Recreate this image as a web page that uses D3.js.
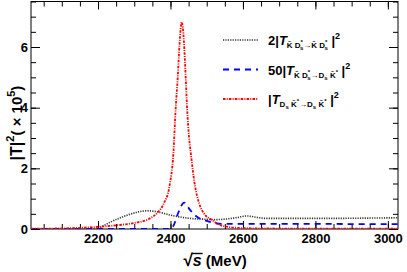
<!DOCTYPE html>
<html>
<head>
    <style>
        body, html { margin: 0; padding: 0; background: #fff; overflow: hidden; }
        svg text { font-family: "Liberation Sans", Arial, sans-serif; font-weight: bold; }
    </style>
    <script src="https://d3js.org/d3.v7.min.js"></script>
</head>
<body>
<svg id="chart" width="407" height="272"></svg>
<script>
// values (sqrt(s) in MeV, |T|^2 in units of 1e5)
const blackX = [2015, 2195, 2200, 2233, 2270, 2307, 2334, 2362, 2399, 2454, 2500, 2525, 2555, 2585, 2610, 2640, 2665, 2750, 2850, 2950, 3028];
const blackY = [0, 0, 0.02, 0.22, 0.41, 0.55, 0.6, 0.57, 0.46, 0.35, 0.32, 0.31, 0.33, 0.38, 0.43, 0.38, 0.35, 0.35, 0.35, 0.36, 0.37];

const blueX = [2015, 2200, 2400, 2410, 2421, 2438, 2454, 2472, 2500, 2520, 2545, 2650, 2800, 2950, 3028];
const blueY = [0, 0, 0, 0.15, 0.52, 0.87, 0.63, 0.41, 0.27, 0.2, 0.17, 0.17, 0.17, 0.16, 0.16];

const redX = [2015, 2100, 2150, 2200, 2250, 2300, 2340, 2365, 2382, 2397, 2408, 2414, 2420, 2425, 2431, 2437, 2442, 2446, 2451, 2456, 2468, 2479, 2492, 2514, 2545, 2600, 2700, 3028];
const redY = [0.01, 0.02, 0.04, 0.07, 0.12, 0.2, 0.33, 0.55, 0.85, 1.4, 2.5, 3.9, 5.0, 6.1, 6.82, 6.2, 5.0, 3.95, 3.05, 2.5, 1.4, 0.85, 0.52, 0.3, 0.1, 0.03, 0.015, 0.01];

const xTicks = [2200, 2400, 2600, 2800, 3000];
const yTicks = [0, 2, 4, 6];

const svg = d3.select('#chart');
const pLeft = 31, pRight = 398, pTop = 1.5, pBottom = 229;

const x = d3.scaleLinear().domain([2015, 3028]).range([pLeft, pRight]);
const y = d3.scaleLinear().domain([0, 7.5]).range([pBottom, pTop]);

const xMinor = d3.range(2050, 3028, 50);
const yMinor = d3.range(0, 7.51, 0.5);

// axes: ticks point inward, mirrored on top and right
function styleAxis(g) {
    g.select('.domain').remove();
    g.selectAll('line').attr('stroke', '#000');
}
svg.append('g').attr('transform', `translate(0,${pBottom})`)
    .call(d3.axisBottom(x).tickValues(xMinor).tickSize(-5).tickFormat(''))
    .call(styleAxis);
svg.append('g').attr('transform', `translate(0,${pBottom})`)
    .call(d3.axisBottom(x).tickValues(xTicks).tickSize(-8).tickPadding(5).tickFormat(d3.format('d')))
    .call(styleAxis)
    .selectAll('text').attr('font-size', 13).attr('fill', '#000');
svg.append('g').attr('transform', `translate(0,${pTop})`)
    .call(d3.axisTop(x).tickValues(xMinor).tickSize(-5).tickFormat(''))
    .call(styleAxis);
svg.append('g').attr('transform', `translate(0,${pTop})`)
    .call(d3.axisTop(x).tickValues(xTicks).tickSize(-8).tickFormat(''))
    .call(styleAxis);

svg.append('g').attr('transform', `translate(${pLeft},0)`)
    .call(d3.axisLeft(y).tickValues(yMinor).tickSize(-5).tickFormat(''))
    .call(styleAxis);
svg.append('g').attr('transform', `translate(${pLeft},0)`)
    .call(d3.axisLeft(y).tickValues(yTicks).tickSize(-9).tickPadding(3).tickFormat(d3.format('d')))
    .call(styleAxis)
    .selectAll('text').attr('font-size', 13).attr('fill', '#000');
svg.append('g').attr('transform', `translate(${pRight},0)`)
    .call(d3.axisRight(y).tickValues(yMinor).tickSize(-5).tickFormat(''))
    .call(styleAxis);
svg.append('g').attr('transform', `translate(${pRight},0)`)
    .call(d3.axisRight(y).tickValues(yTicks).tickSize(-9).tickFormat(''))
    .call(styleAxis);

svg.append('rect')
    .attr('x', pLeft).attr('y', pTop)
    .attr('width', pRight - pLeft).attr('height', pBottom - pTop)
    .attr('fill', 'none').attr('stroke', '#000').attr('stroke-width', 1);

// curves
svg.append('clipPath').attr('id', 'clip')
    .append('rect').attr('x', pLeft).attr('y', pTop)
    .attr('width', pRight - pLeft).attr('height', pBottom - pTop);

const line = d3.line()
    .x(d => x(d[0]))
    .y(d => y(d[1]))
    .curve(d3.curveMonotoneX);

const series = [
    { xs: blackX, ys: blackY, color: '#333', dash: '1.2,1.2', width: 1.6 },
    { xs: blueX, ys: blueY, color: '#0000ff', dash: '6,5', width: 1.8 },
    { xs: redX, ys: redY, color: '#ff0000', dash: '2.5,1.2,1,1.2', width: 1.8 }
];

series.forEach(s => {
    svg.append('path')
        .datum(d3.zip(s.xs, s.ys))
        .attr('clip-path', 'url(#clip)')
        .attr('fill', 'none')
        .attr('stroke', s.color)
        .attr('stroke-width', s.width)
        .attr('stroke-dasharray', s.dash)
        .attr('d', line);
});

// rich text helper: segments with baseline offset (off), size, italic, dx
function richText(g, x0, y0, segs, attrs) {
    const t = g.append('text').attr('x', x0).attr('y', y0);
    if (attrs) Object.entries(attrs).forEach(([k, v]) => t.attr(k, v));
    let prev = 0;
    segs.forEach(s => {
        const ts = t.append('tspan')
            .attr('font-size', s.size)
            .attr('dy', (s.off || 0) - prev)
            .text(s.t);
        if (s.it) ts.attr('font-style', 'italic');
        if (s.dx) ts.attr('dx', s.dx);
        prev = s.off || 0;
    });
    return t;
}

// legend
const legendY = [40, 69.5, 99];
series.forEach((s, i) => {
    svg.append('line')
        .attr('x1', 223).attr('x2', 258)
        .attr('y1', legendY[i]).attr('y2', legendY[i])
        .attr('stroke', s.color)
        .attr('stroke-width', s.width)
        .attr('stroke-dasharray', s.dash);
});

const Kb = 'K\u0304';
const Ds = off => [
    { t: 'D', size: 8, off: off },
    { t: '*', size: 6, off: off - 4 },
    { t: 's', size: 6, off: off + 2, dx: -3 }
];
const sub = 3;
const legendSegs = [
    [{ t: '2|', size: 13 }, { t: 'T', size: 13, it: true },
     { t: Kb + ' ', size: 8, off: sub }, ...Ds(sub),
     { t: '\u2192' + Kb + ' ', size: 8, off: sub }, ...Ds(sub),
     { t: ' |', size: 13 }, { t: '2', size: 9, off: -6 }],
    [{ t: '50|', size: 13 }, { t: 'T', size: 13, it: true },
     { t: Kb + ' ', size: 8, off: sub }, ...Ds(sub),
     { t: '\u2192', size: 8, off: sub },
     { t: 'D', size: 8, off: sub }, { t: 's', size: 6, off: sub + 2 },
     { t: ' ' + Kb, size: 8, off: sub }, { t: '*', size: 6, off: sub - 4 },
     { t: ' |', size: 13 }, { t: '2', size: 9, off: -6 }],
    [{ t: '|', size: 13 }, { t: 'T', size: 13, it: true },
     { t: 'D', size: 8, off: sub }, { t: 's', size: 6, off: sub + 2 },
     { t: ' ' + Kb, size: 8, off: sub }, { t: '*', size: 6, off: sub - 4 },
     { t: '\u2192', size: 8, off: sub },
     { t: 'D', size: 8, off: sub }, { t: 's', size: 6, off: sub + 2 },
     { t: ' ' + Kb, size: 8, off: sub }, { t: '*', size: 6, off: sub - 4 },
     { t: ' |', size: 13 }, { t: '2', size: 9, off: -6 }]
];
legendSegs.forEach((segs, i) => richText(svg, 268, legendY[i] + 5, segs, { fill: '#000' }));

// axis titles
richText(svg, 0, 0, [
    { t: '|T|', size: 16 }, { t: '2', size: 11, off: -8 },
    { t: '( \u00d7 10', size: 15, off: 0 }, { t: '5', size: 11, off: -7 }, { t: ')', size: 15, off: 0 }
], { transform: 'translate(22,123) rotate(-90)', 'text-anchor': 'middle', fill: '#000' });

const xt = richText(svg, 215, 266, [
    { t: '\u221a', size: 17 }, { t: 's', size: 16, it: true }, { t: ' (MeV)', size: 15 }
], { 'text-anchor': 'middle', fill: '#000' });
// vinculum over the s
const xn = xt.node();
const s0 = xn.getStartPositionOfChar(1), s1 = xn.getEndPositionOfChar(1);
const r0 = xn.getExtentOfChar(0);
svg.append('line')
    .attr('x1', r0.x + r0.width - 1).attr('x2', s1.x + 1)
    .attr('y1', r0.y + 2.5).attr('y2', r0.y + 2.5)
    .attr('stroke', '#000').attr('stroke-width', 1.4);
</script>
</body>
</html>
